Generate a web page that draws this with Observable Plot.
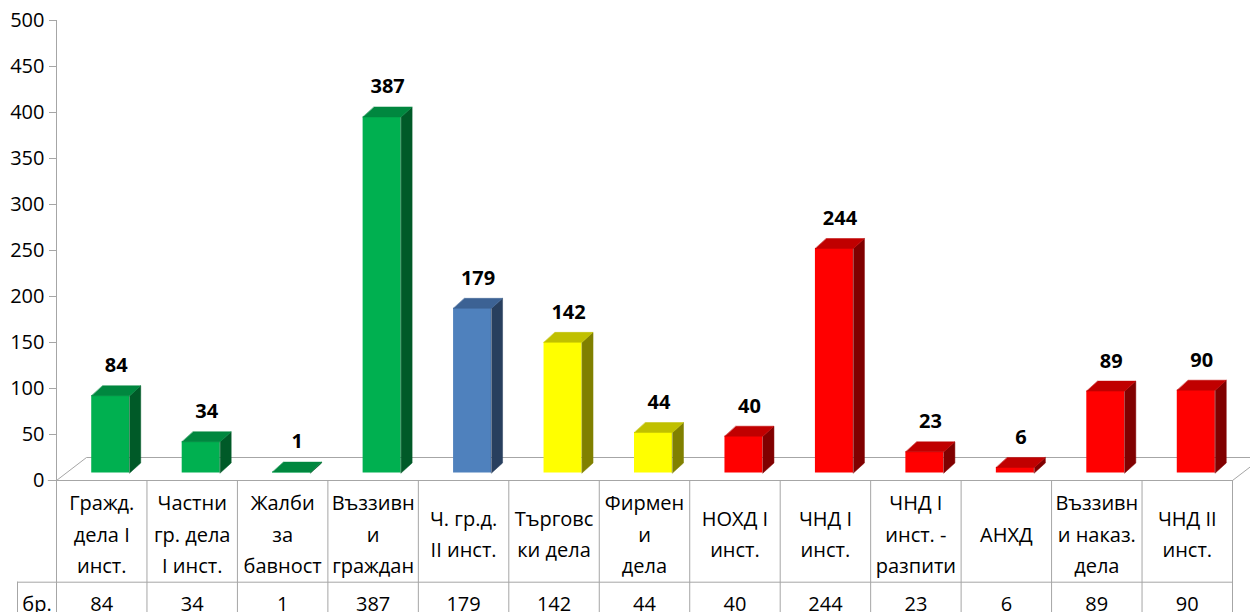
<!DOCTYPE html>
<html><head><meta charset="utf-8">
<script src="https://cdn.jsdelivr.net/npm/d3@7"></script>
<script src="https://cdn.jsdelivr.net/npm/@observablehq/plot@0.6"></script>
<style>html,body{margin:0;padding:0;background:#fff;overflow:hidden}</style>
</head><body><div id="chart"></div>
<script>
// ---- data ----
const categories = [
  "Гражд.\nдела I\nинст.",
  "Частни\nгр. дела\nI инст.",
  "Жалби\nза\nбавност",
  "Въззивн\nи\nграждан",
  "Ч. гр.д.\nII инст.",
  "Търговс\nки дела",
  "Фирмен\nи\nдела",
  "НОХД I\nинст.",
  "ЧНД I\nинст.",
  "ЧНД I\nинст. -\nразпити",
  "АНХД",
  "Въззивн\nи наказ.\nдела",
  "ЧНД II\nинст."
];
const values = [84, 34, 1, 387, 179, 142, 44, 40, 244, 23, 6, 89, 90];
const groups = ["граждански","граждански","граждански","граждански","частни II","търговски","търговски",
                "наказателни","наказателни","наказателни","наказателни","наказателни","наказателни"];
const rowLabel = "бр.";
const yTicks = [0, 50, 100, 150, 200, 250, 300, 350, 400, 450, 500];

// ---- styles / layout ----
const palette = {
  "граждански":  {front: "#00B050", side: "#005A28", top: "#00873F"},
  "частни II":   {front: "#4F81BD", side: "#283F5E", top: "#3C6294"},
  "търговски":   {front: "#FFFF00", side: "#808000", top: "#C0C000"},
  "наказателни": {front: "#FF0000", side: "#800000", top: "#C00000"}
};
const W = 1250, H = 612, mL = 56, mR = 18, mT = 20, mB = 132;
const n = categories.length;
const yMax = 500;
const kx = (W - mL - mR) / n;      // px per x unit
const ky = (H - mT - mB) / yMax;   // px per y unit
const faceW = 38 / kx, sideX = 11 / kx, sideY = 10 / ky;
const shiftX = 9, shiftY = -7.5;
const floorX = 30 / kx, floorY = 23 / ky;
const gridColor = "#A6A6A6";
const font = "'Open Sans', 'Noto Sans', sans-serif";

const bars = values.map((v, i) => ({
  i, v, group: groups[i],
  x1: i + 0.5 - faceW / 2, x2: i + 0.5 + faceW / 2
}));
const sides = bars.flatMap(b =>
  [[b.x2, 0], [b.x2 + sideX, sideY], [b.x2 + sideX, b.v + sideY], [b.x2, b.v]]
    .map(([x, y]) => ({id: b.i, x, y, fill: palette[b.group].side})));
const tops = bars.flatMap(b =>
  [[b.x1, b.v], [b.x2, b.v], [b.x2 + sideX, b.v + sideY], [b.x1 + sideX, b.v + sideY]]
    .map(([x, y]) => ({id: b.i, x, y, fill: palette[b.group].top})));
const floor = [[0, 0], [floorX, floorY], [n + floorX, floorY], [n, 0]].map(([x, y]) => ({x, y}));

const tableBottom = -(mB + 10) / ky;
const rowLine = -(581.7 - (H - mB)) / ky;
const labelColX = -(mL - 17) / kx;

const plot = Plot.plot({
  width: W, height: H,
  marginLeft: mL, marginRight: mR, marginTop: mT, marginBottom: mB,
  x: {type: "linear", domain: [0, n], axis: null},
  y: {type: "linear", domain: [0, yMax], axis: null},
  style: {fontFamily: font, fontSize: "20px", color: "#000", background: "#fff", overflow: "visible"},
  marks: [
    // floor
    Plot.line(floor, {x: "x", y: "y", stroke: gridColor, strokeWidth: 1}),
    // y axis
    Plot.ruleX([0], {y1: 0, y2: yMax, stroke: gridColor}),
    Plot.axisY({ticks: yTicks, tickSize: 7, tickPadding: 5, stroke: gridColor, fill: "#000",
                fontSize: 20, tickFormat: d => String(d)}),
    // bars: front faces
    Plot.rect(bars, {x1: "x1", x2: "x2", y1: 0, y2: "v", fill: d => palette[d.group].front,
                     dx: shiftX, dy: shiftY}),
    // bars: side faces
    Plot.line(sides, {x: "x", y: "y", z: "id", fill: "fill", stroke: "fill", strokeWidth: 0.5,
                      curve: "linear-closed", dx: shiftX, dy: shiftY}),
    // bars: top faces
    Plot.line(tops, {x: "x", y: "y", z: "id", fill: "fill", stroke: "fill", strokeWidth: 0.5,
                     curve: "linear-closed", dx: shiftX, dy: shiftY}),
    // value labels
    Plot.text(bars, {x: d => d.i + 0.5, y: "v", text: d => String(d.v), fontWeight: "bold",
                     fontSize: 20, fill: "#000", dx: shiftX + 5.5, dy: shiftY - 30}),
    // table grid
    Plot.ruleY([0], {x1: 0, x2: n, stroke: gridColor}),
    Plot.ruleY([0], {x1: -0.09, x2: 0, stroke: gridColor}),
    Plot.ruleY([rowLine], {x1: labelColX, x2: n, stroke: gridColor}),
    Plot.ruleX(d3.range(n + 1), {y1: 0, y2: tableBottom, stroke: gridColor}),
    Plot.ruleX([labelColX], {y1: rowLine, y2: tableBottom, stroke: gridColor}),
    // table header text
    Plot.text(categories, {x: (d, i) => i + 0.5, text: d => d, frameAnchor: "bottom",
                           lineAnchor: "middle", lineHeight: 1.57, dy: 51, fill: "#000", fontSize: 20}),
    // table value row
    Plot.text(values, {x: (d, i) => i + 0.5, text: d => String(d), frameAnchor: "bottom",
                       lineAnchor: "middle", dy: 124, fill: "#000", fontSize: 20}),
    Plot.text([rowLabel], {x: labelColX / 2, text: d => d, frameAnchor: "bottom",
                           lineAnchor: "middle", dy: 124, fill: "#000", fontSize: 20})
  ]
});
document.getElementById("chart").appendChild(plot);
</script>
</body></html>
